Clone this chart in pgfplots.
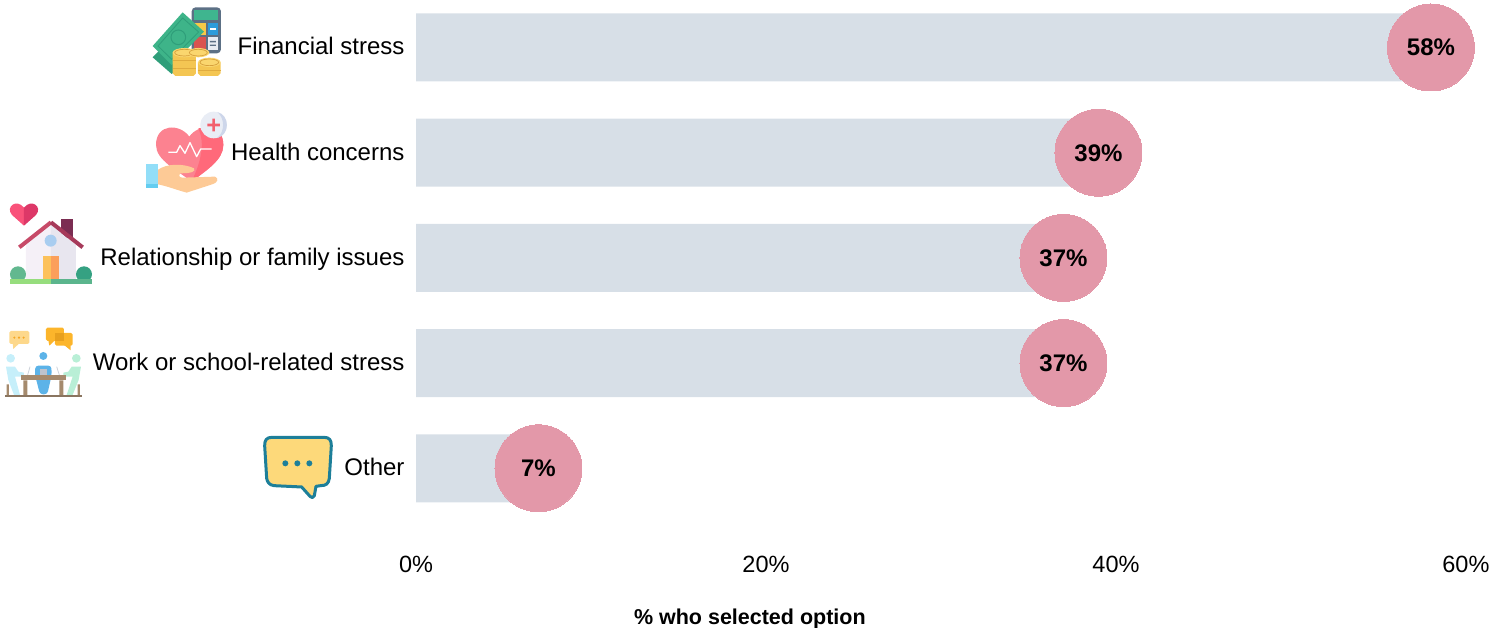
\documentclass[border=0pt]{standalone}
\usepackage{pgfplots}
\usepackage{pgfplotstable}
\usepackage{fontspec}
\setmainfont{Liberation Sans}
\pgfplotsset{compat=1.18}
\definecolor{barfill}{HTML}{D7DFE7}
\definecolor{bubble}{HTML}{E398A9}
\pgfplotstableread{
row share
0 58
1 39
2 37
3 37
4 7
}\responses
\begin{document}
\begin{tikzpicture}
\useasboundingbox (0,0) rectangle (1489pt,628pt);
\begin{axis}[
  at={(416pt,83pt)}, anchor=south west,
  scale only axis, width=1050pt, height=545pt,
  xmin=0, xmax=60, ymin=-0.4515, ymax=4.729,
  y dir=reverse, clip=false,
  axis line style={draw=none}, tick style={draw=none},
  xtick={0,20,40,60},
  xticklabel={\pgfmathprintnumber{\tick}\%},
  /pgf/number format/assume math mode=true,
  ytick={0,1,2,3,4},
  yticklabels={Financial stress,Health concerns,Relationship or family issues,Work or school-related stress,Other},
  yticklabel style={font=\fontsize{24}{28}\selectfont, xshift=-8pt, yshift=-1.5pt,
    text height=17pt, text depth=5pt},
  xticklabel style={font=\fontsize{23.5}{28}\selectfont, yshift=-8pt},
  xlabel={\% who selected option},
  xlabel style={at={(axis description cs:0.318,0)}, anchor=center, yshift=-74pt,
    font=\fontsize{21.5}{26}\selectfont\bfseries},
]
\addplot[xbar, bar width=68pt, fill=barfill, draw=none, forget plot]
  table[x=share, y=row] {\responses};
\addplot[only marks, mark=*, mark size=43.5pt,
  mark options={fill=bubble, draw=bubble, line width=0pt}, forget plot,
  point meta=x,
  nodes near coords={\pgfmathprintnumber{\pgfplotspointmeta}\%},
  every node near coord/.append style={anchor=center, text=black, text height=17pt, text depth=0pt,
    font=\fontsize{24}{28}\selectfont\bfseries}]
  table[x=share, y=row] {\responses};
\end{axis}

% money and calculator
\begin{scope}[shift={(130pt,628pt)}, x=0.3333pt, y=-0.3333pt]
  \fill[rounded corners=4pt, fill={rgb,255:red,92;green,112;blue,133}] (185,22) rectangle (273,160);
  \fill[fill={rgb,255:red,63;green,181;blue,143}] (193,30) rectangle (265,60);
  \fill[fill={rgb,255:red,247;green,201;blue,72}] (193,68) rectangle (227,105);
  \fill[fill={rgb,255:red,45;green,156;blue,219}] (233,68) rectangle (265,105);
  \fill[white] (240,85) rectangle (258,89);
  \fill[fill={rgb,255:red,217;green,83;blue,79}] (193,112) rectangle (227,150);
  \fill[fill={rgb,255:red,232;green,236;blue,242}] (233,112) rectangle (265,150);
  \fill[fill={rgb,255:red,92;green,112;blue,133}] (240,123) rectangle (258,127) (240,134) rectangle (258,138);
  \fill[fill={rgb,255:red,47;green,158;blue,122}] (68,172) -- (100,140) -- (185,170) -- (125,222) -- cycle;
  \fill[fill={rgb,255:red,62;green,180;blue,137}] (68,138) -- (158,37) -- (222,95) -- (125,195) -- cycle;
  \draw[line width=0.8pt, draw={rgb,255:red,47;green,158;blue,122}] (84,138) -- (158,54) -- (206,96) -- (125,178) -- cycle;
  \draw[line width=1pt, draw={rgb,255:red,47;green,158;blue,122}] (145,112) circle [x radius=22, y radius=22];
  \foreach \ty/\tx/\w in {158/163/35, 187/238/34} {
    \fill[fill={rgb,255:red,244;green,198;blue,83}] (\tx-\w,\ty) -- (\tx-\w,220) -- (\tx-\w+8,228) -- (\tx+\w-8,228) -- (\tx+\w,220) -- (\tx+\w,\ty) -- cycle;
    \fill[fill={rgb,255:red,250;green,214;blue,110}] (\tx,\ty) circle [x radius=\w, y radius=14];
    \draw[line width=0.7pt, draw={rgb,255:red,214;green,160;blue,60}] (\tx,\ty) circle [x radius=\w-6, y radius=10];
  }
  \draw[line width=0.6pt, draw={rgb,255:red,224;green,172;blue,64}] (128,182) -- (198,182) (128,205) -- (198,205) (204,210) -- (272,210);
  \fill[fill={rgb,255:red,250;green,214;blue,110}] (205,158) circle [x radius=33, y radius=14];
  \draw[line width=0.7pt, draw={rgb,255:red,214;green,160;blue,60}] (205,158) circle [x radius=27, y radius=10];
\end{scope}

% heart held in a hand
\begin{scope}[shift={(130pt,628pt)}, x=0.3333pt, y=-0.3333pt]
  \fill[fill={rgb,255:red,252;green,130;blue,144}] (178,410) .. controls (150,370) and (78,370) .. (78,435) .. controls (78,480) and (140,510) .. (185,545) .. controls (230,510) and (280,480) .. (280,435) .. controls (280,370) and (205,370) .. (178,410) -- cycle;
  \fill[fill={rgb,255:red,255;green,105;blue,122}] (205,385) .. controls (270,375) and (280,410) .. (280,435) .. controls (280,480) and (230,510) .. (185,545) .. controls (215,480) and (225,430) .. (205,385) -- cycle;
  \draw[white, line width=1.3pt, line join=round] (115,457) -- (140,457) -- (150,437) -- (165,460) -- (180,428) -- (200,470) -- (212,447) -- (245,447);
  \fill[fill={rgb,255:red,233;green,237;blue,245}] (251,375) circle [x radius=40, y radius=40];
  \fill[fill={rgb,255:red,205;green,214;blue,234}] (262,336) .. controls (300,345) and (300,405) .. (262,414) .. controls (285,395) and (285,355) .. (262,336) -- cycle;
  \fill[fill={rgb,255:red,242;green,96;blue,109}] (232,371) rectangle (270,379) (247,356) rectangle (255,394);
  \fill[fill={rgb,255:red,253;green,202;blue,150}] (83,510) .. controls (110,490) and (160,490) .. (192,505) .. controls (198,515) and (185,520) .. (150,520) .. controls (145,530) and (150,533) .. (160,533) -- (255,530) .. controls (268,535) and (262,548) .. (250,552) -- (170,578) .. controls (140,570) and (110,558) .. (83,553) -- cycle;
  \fill[fill={rgb,255:red,146;green,222;blue,248}] (48,493) rectangle (83,563);
  \fill[fill={rgb,255:red,100;green,205;blue,240}] (48,552) rectangle (83,563);
\end{scope}

% house with a heart above it
\begin{scope}[shift={(0pt,433pt)}, x=0.3333pt, y=-0.3333pt]
  \fill[fill={rgb,255:red,249;green,82;blue,122}] (72,92) -- (36,60) .. controls (15,35) and (50,10) .. (72,38) -- cycle;
  \fill[fill={rgb,255:red,221;green,56;blue,104}] (72,92) -- (108,60) .. controls (129,35) and (94,10) .. (72,38) -- cycle;
  \fill[fill={rgb,255:red,123;green,45;blue,82}] (183,72) rectangle (220,130);
  \fill[fill={rgb,255:red,245;green,240;blue,247}] (78,150) -- (153,90) -- (153,252) -- (78,252) -- cycle;
  \fill[fill={rgb,255:red,232;green,230;blue,239}] (228,150) -- (153,90) -- (153,252) -- (228,252) -- cycle;
  \draw[line width=4pt, draw={rgb,255:red,199;green,74;blue,104}] (58,157) -- (153,82);
  \draw[line width=4pt, draw={rgb,255:red,166;green,58;blue,90}] (153,82) -- (248,157);
  \fill[fill={rgb,255:red,169;green,205;blue,240}] (152,137) circle [x radius=18, y radius=18];
  \fill[fill={rgb,255:red,252;green,193;blue,91}] (128,184) rectangle (153,252);
  \fill[fill={rgb,255:red,251;green,159;blue,91}] (153,184) rectangle (177,252);
  \fill[fill={rgb,255:red,98;green,184;blue,143}] (54,238) circle [x radius=24, y radius=24];
  \fill[fill={rgb,255:red,53;green,161;blue,130}] (252,238) circle [x radius=24, y radius=24];
  \fill[fill={rgb,255:red,150;green,221;blue,125}] (30,253) rectangle (153,267);
  \fill[fill={rgb,255:red,91;green,181;blue,141}] (153,253) rectangle (276,267);
\end{scope}

% people meeting around a table
\begin{scope}[shift={(0pt,433pt)}, x=0.3333pt, y=-0.3333pt]
  \fill[rounded corners=1.5pt, fill={rgb,255:red,253;green,216;blue,139}] (28,408) rectangle (88,447);
  \fill[fill={rgb,255:red,253;green,216;blue,139}] (38,445) -- (40,462) -- (58,445) -- cycle;
  \foreach \dx in {43,57,71} \fill[fill={rgb,255:red,245;green,166;blue,35}] (\dx,428) circle [x radius=3.5, y radius=3.5];
  \fill[rounded corners=1.5pt, fill={rgb,255:red,252;green,181;blue,43}] (138,398) rectangle (192,438);
  \fill[fill={rgb,255:red,252;green,181;blue,43}] (145,436) -- (148,452) -- (165,436) -- cycle;
  \fill[rounded corners=1.5pt, fill={rgb,255:red,252;green,181;blue,43}] (165,414) rectangle (218,452);
  \fill[fill={rgb,255:red,252;green,181;blue,43}] (192,450) -- (212,466) -- (212,450) -- cycle;
  \fill[fill={rgb,255:red,232;green,160;blue,30}] (165,414) rectangle (192,438);
  \fill[fill={rgb,255:red,92;green,179;blue,232}] (130,483) circle [x radius=12, y radius=12];
  \fill[fill={rgb,255:red,198;green,239;blue,250}] (32,490) circle [x radius=13, y radius=13];
  \fill[fill={rgb,255:red,185;green,239;blue,214}] (229,490) circle [x radius=13, y radius=13];
  \fill[fill={rgb,255:red,198;green,239;blue,250}] (18,515) -- (45,515) -- (55,530) -- (72,533) -- (72,545) -- (45,545) -- (60,600) -- (42,600) -- (25,555) -- cycle;
  \fill[fill={rgb,255:red,185;green,239;blue,214}] (243,515) -- (215,515) -- (205,530) -- (190,533) -- (190,545) -- (218,545) -- (200,600) -- (218,600) -- (236,555) -- cycle;
  \fill[fill={rgb,255:red,92;green,179;blue,232}, rounded corners=3pt] (105,540) -- (106,512) -- (154,512) -- (155,540) -- (142,598) -- (120,598) -- cycle;
  \fill[fill={rgb,255:red,190;green,195;blue,205}] (120,522) rectangle (142,540);
  \draw[line width=0.8pt, draw={rgb,255:red,205;green,210;blue,218}] (90,515) -- (83,540) (170,515) -- (178,540);
  \fill[fill={rgb,255:red,165;green,138;blue,109}] (62,540) rectangle (198,556);
  \fill[fill={rgb,255:red,165;green,138;blue,109}] (70,556) rectangle (82,600) (178,556) rectangle (190,600) (20,568) rectangle (27,600) (233,568) rectangle (240,600);
  \fill[fill={rgb,255:red,138;green,117;blue,96}] (15,600) rectangle (245,607);
\end{scope}

% speech bubble
\begin{scope}[shift={(250pt,203pt)}, x=0.3333pt, y=-0.3333pt]
  \draw[line width=3pt, line join=round, draw={rgb,255:red,29;green,127;blue,153}, fill={rgb,255:red,253;green,217;blue,122}]
    (44,62) .. controls (44,45) and (50,37) .. (66,37) -- (222,37) .. controls (238,37) and (244,45) .. (244,62)
    -- (238,160) .. controls (236,176) and (228,182) .. (212,182) -- (198,184) -- (193,212)
    .. controls (191,220) and (184,219) .. (180,214) -- (155,186) -- (72,182)
    .. controls (58,180) and (52,172) .. (50,160) -- cycle;
  \foreach \dx in {106,142,178} \fill[fill={rgb,255:red,29;green,127;blue,153}] (\dx,115) circle [x radius=9, y radius=9];
\end{scope}
\end{tikzpicture}
\end{document}
